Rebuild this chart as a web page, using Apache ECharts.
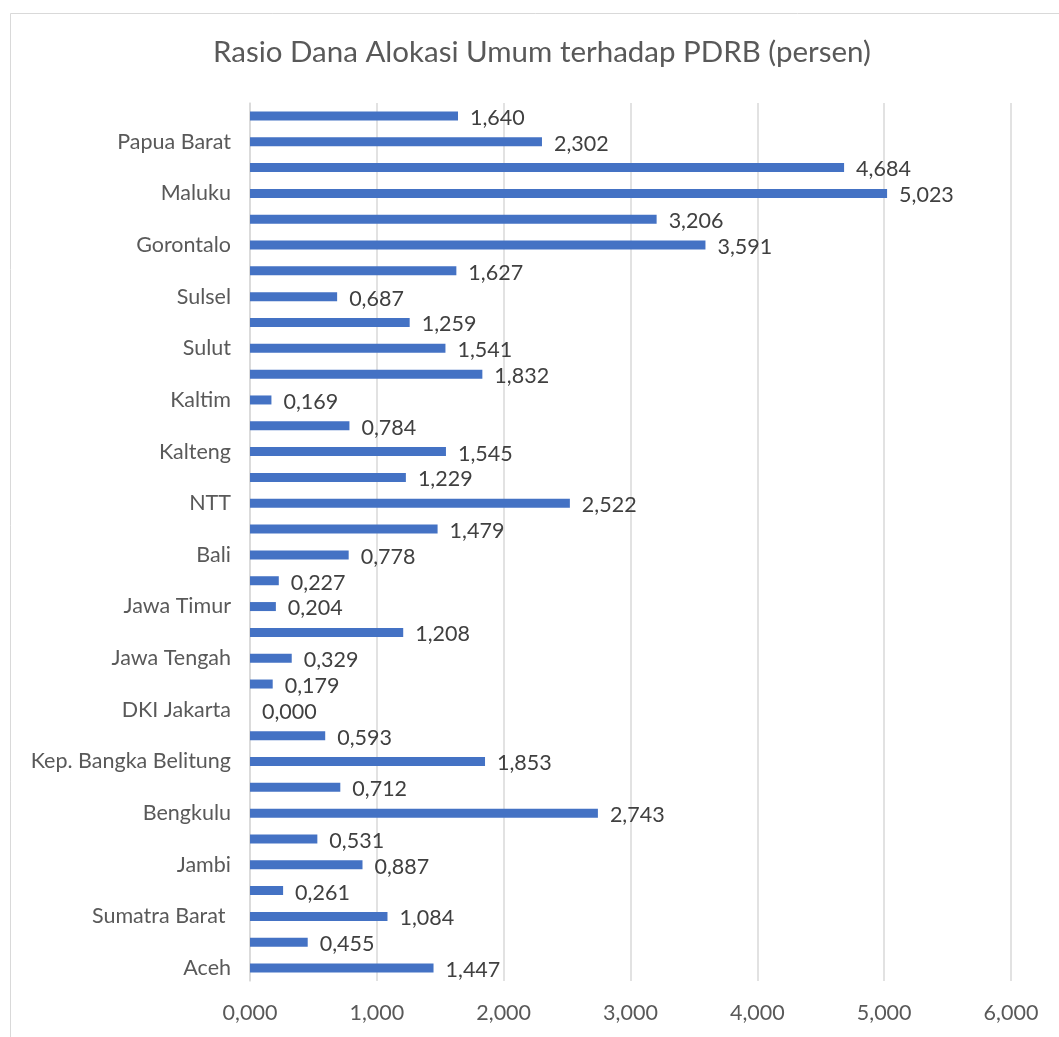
<!DOCTYPE html>
<html>
<head>
<meta charset="utf-8">
<script src="https://cdn.jsdelivr.net/npm/echarts@6/dist/echarts.min.js"></script>
<style>
html,body{margin:0;padding:0;background:#fff;}
#chart{width:1059px;height:1037px;}
</style>
</head>
<body>
<div id="chart"></div>
<script>
const chartTitle = "Rasio Dana Alokasi Umum terhadap PDRB (persen)";
const provinces = [
  "Aceh","Sumatra Utara","Sumatra Barat ","Riau","Jambi","Sumatra Selatan","Bengkulu","Lampung",
  "Kep. Bangka Belitung","Kep. Riau","DKI Jakarta","Jawa Barat","Jawa Tengah","DI Yogyakarta",
  "Jawa Timur","Banten","Bali","NTB","NTT","Kalbar","Kalteng","Kalsel","Kaltim","Kaltara",
  "Sulut","Sulteng","Sulsel","Sultra","Gorontalo","Sulbar","Maluku","Maluku Utara","Papua Barat","Papua"
];
const ratioValues = [
  1.447,0.455,1.084,0.261,0.887,0.531,2.743,0.712,
  1.853,0.593,0.000,0.179,0.329,1.208,
  0.204,0.227,0.778,1.479,2.522,1.229,1.545,0.784,0.169,1.832,
  1.541,1.259,0.687,1.627,3.591,3.206,5.023,4.684,2.302,1.640
];
const xTicks = [0,1,2,3,4,5,6];

const fmt = v => v.toFixed(3).replace('.', ',');
const FONT = 'Lato, "Open Sans", sans-serif';

const chart = echarts.init(document.getElementById('chart'));
chart.setOption({
  animation:false,
  backgroundColor:'#fff',
  graphic:[{
    type:'rect', left:8, top:11,
    shape:{width:1100, height:1100},
    style:{fill:'none', stroke:'#d9d9d9', lineWidth:1}
  }],
  title:{
    text:chartTitle, left:208, top:32,
    textStyle:{fontFamily:FONT, fontSize:29.5, fontWeight:'normal', color:'#595959'}
  },
  grid:{left:250, right:48, top:103, bottom:56, containLabel:false},
  xAxis:{
    type:'value', min:xTicks[0], max:xTicks[xTicks.length-1], interval:1,
    axisLine:{show:false}, axisTick:{show:false},
    splitLine:{show:true, lineStyle:{color:'#d9d9d9', width:1.5}},
    axisLabel:{formatter:fmt, margin:21, fontFamily:FONT, fontSize:21.5, color:'#595959'}
  },
  yAxis:{
    type:'category', data:provinces,
    axisLine:{show:true, lineStyle:{color:'#d9d9d9', width:1.5}},
    axisTick:{show:false},
    axisLabel:{interval:1, margin:19, fontFamily:FONT, fontSize:21.5, color:'#595959'}
  },
  series:[{
    type:'bar', data:ratioValues, barWidth:9,
    itemStyle:{color:'#4472c4'},
    label:{show:true, position:'right', distance:12, offset:[0,2],
      formatter:p=>fmt(p.value), fontFamily:FONT, fontSize:21.5, color:'#404040'}
  }]
});
</script>
</body>
</html>
